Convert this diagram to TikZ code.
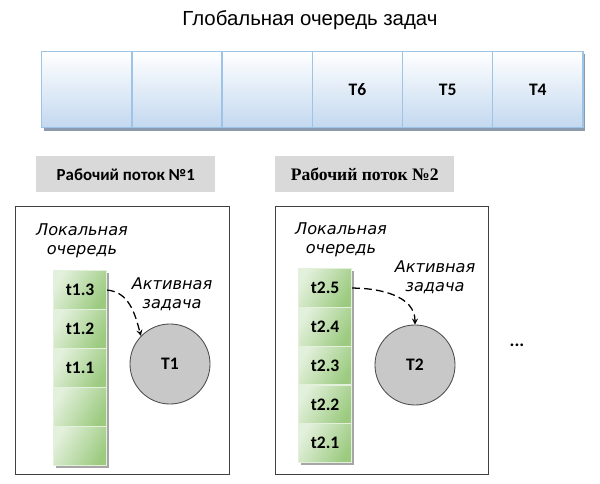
\documentclass[tikz,border=0pt]{standalone}
\usepackage{fontspec}
\setmainfont{Liberation Sans}
\newfontfamily\calibrifont{Carlito}
\newfontfamily\timesfont{Liberation Serif}
\newfontfamily\verdanafont{DejaVu Sans}
\usetikzlibrary{arrows}
\definecolor{qblue}{HTML}{C3D8EF}
\definecolor{qborder}{HTML}{9DC3E6}
\definecolor{qshadow}{HTML}{8C9AAE}
\definecolor{qgreen}{HTML}{9CCB80}
\definecolor{qgreenlight}{HTML}{E3F0DC}
\definecolor{labgray}{HTML}{D9D9D9}
\definecolor{circgray}{HTML}{C8C8C8}

\begin{document}
\begin{tikzpicture}[x=0.025cm, y=-0.025cm,
  gcell/.style={draw=qborder, line width=1pt, top color=white, bottom color=qblue,
    minimum width=2.255cm, minimum height=1.9cm, inner sep=0pt, anchor=north west,
    font=\calibrifont\bfseries\fontsize{12.5}{14}\selectfont},
  lcell/.style={draw=qgreenlight, line width=0.8pt, left color=qgreenlight, right color=qgreen,
    shading angle=60, minimum width=1.325cm, minimum height=0.975cm, inner sep=0pt, anchor=north west,
    font=\calibrifont\bfseries\fontsize{12.5}{14}\selectfont},
  worker/.style={draw=black!75, line width=0.7pt, fill=white},
  wlabel/.style={fill=labgray, minimum width=4.475cm, minimum height=0.9cm, inner sep=0pt, anchor=north west},
  task/.style={circle, draw=black!70, line width=0.6pt, fill=circgray, minimum size=2cm, inner sep=0pt,
    font=\calibrifont\bfseries\fontsize{12.5}{14}\selectfont},
  note/.style={align=center, font=\verdanafont\itshape\fontsize{11.5}{13.5}\selectfont},
  move/.style={->, >=stealth, line width=0.9pt, dash pattern=on 5.5pt off 3pt}]
  \useasboundingbox (0,0) rectangle (600,484);

  % Global queue
  \node[font=\fontsize{14.5}{16}\selectfont] (title) at (310,20) {Глобальная очередь задач};
  \fill[qshadow] (44,54) rectangle (585,131);
  \foreach \i/\lab in {0/,1/,2/,3/T6,4/T5,5/T4}
    \node[gcell] (g\i) at ({41+90.2*\i},51) {\lab};

  % Worker labels
  \node[wlabel, font=\calibrifont\bfseries\fontsize{12}{14}\selectfont] (w1) at (36,156) {Рабочий поток №1};
  \node[wlabel, font=\timesfont\bfseries\fontsize{12.5}{14}\selectfont] (w2) at (275,156) {Рабочий поток №2};

  % Worker 1
  \draw[worker] (15,206) rectangle (229,474);
  \node[note] (lq1) at (82,241) {Локальная\\очередь};
  \fill[black!35] (56,273) rectangle (109,468);
  \foreach \i/\lab in {0/t1.3,1/t1.2,2/t1.1,3/,4/}
    \node[lcell] (a\i) at (53,{270+39*\i}) {\lab};
  \node[note] (act1) at (172,294) {Активная\\задача};
  \node[task] (T1) at (170,364) {T1};
  \draw[move] (a0.east) to[out=-5, in=105] (T1.136);

  % Worker 2
  \draw[worker] (275,206) rectangle (488,474);
  \node[note] (lq2) at (341,240) {Локальная\\очередь};
  \fill[black!35] (301,271) rectangle (354,465);
  \foreach \i/\lab in {0/t2.5,1/t2.4,2/t2.3,3/t2.2,4/t2.1}
    \node[lcell] (b\i) at (298,{268+38.8*\i}) {\lab};
  \node[note] (act2) at (435,277) {Активная\\задача};
  \node[task] (T2) at (415,365) {T2};
  \draw[move] (b0.east) to[out=0, in=90] (T2.north);

  \node[font=\calibrifont\bfseries\fontsize{13}{14}\selectfont] (more) at (517,345) {...};
\end{tikzpicture}
\end{document}
